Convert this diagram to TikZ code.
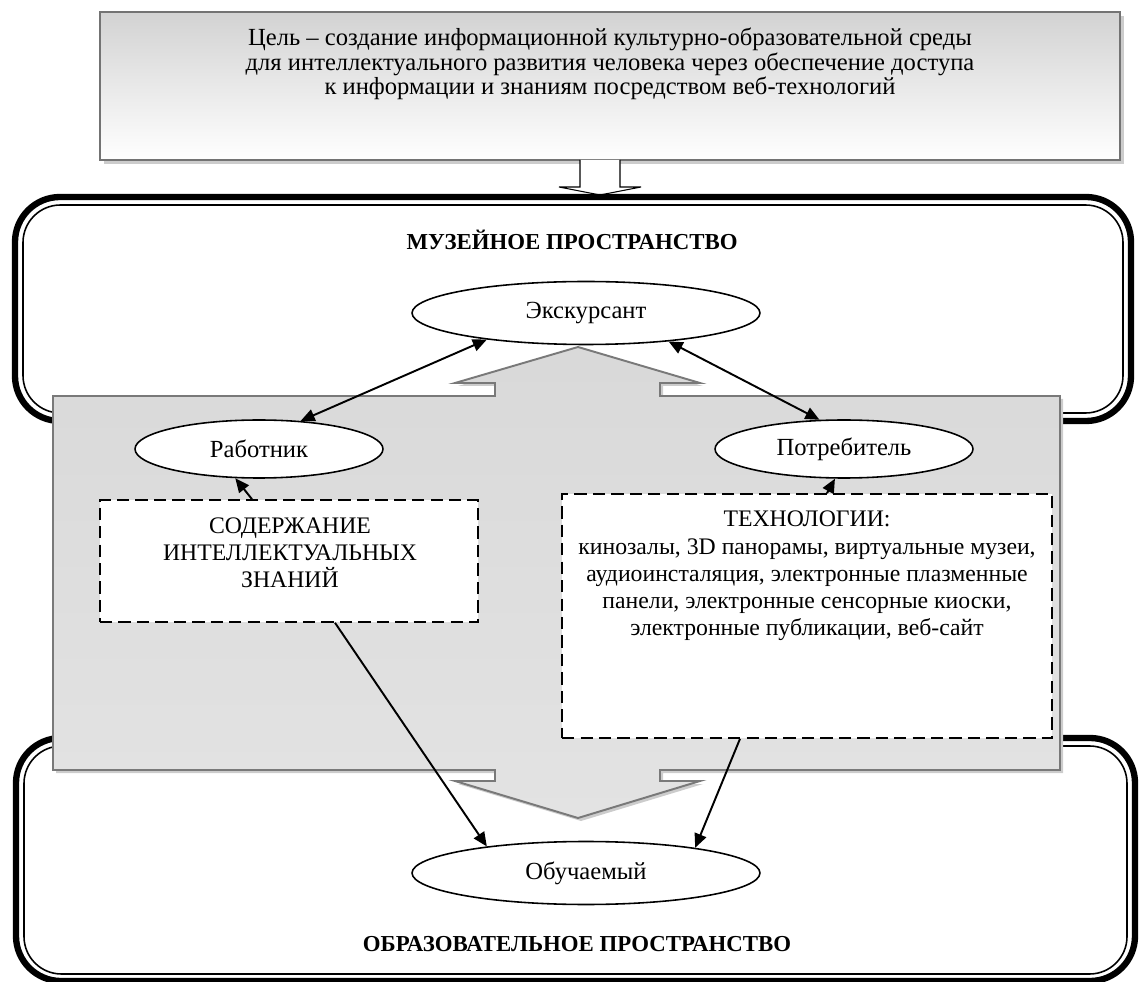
\documentclass[tikz,border=0pt]{standalone}
\usepackage{fontspec}
\setmainfont{Liberation Serif}
\usetikzlibrary{shapes.geometric,arrows.meta}

\tikzset{
  ell/.style={ellipse,draw,fill=white,line width=0.9pt,inner sep=0pt,font=\fontsize{14}{16}\selectfont},
  dbox/.style={draw,fill=white,line width=0.9pt,dash pattern=on 7pt off 3.5pt,inner sep=0pt},
  dtext/.style={align=center,font=\fontsize{13.5}{15.5}\selectfont,inner sep=0pt},
  title/.style={font=\bfseries\fontsize{13}{15}\selectfont},
  link/.style={line width=1.1pt,-{Triangle[length=8pt,width=7pt]}},
  dlink/.style={line width=1.1pt,{Triangle[length=8pt,width=7pt]}-{Triangle[length=8pt,width=7pt]}},
  thickline/.style={line width=3.6pt},
  thinline/.style={line width=0.9pt}
}
\newcommand{\callout}{(53,396) -- (495,396) -- (495,383) -- (455,383) -- (578,347) -- (700,383) -- (660,383) -- (660,396) -- (1060,396) -- (1060,770) -- (660,770) -- (660,781) -- (700,781) -- (578,818) -- (455,781) -- (495,781) -- (495,770) -- (53,770) -- cycle}

\begin{document}
\begin{tikzpicture}[x=0.02cm,y=-0.02cm]
\useasboundingbox (0,0) rectangle (1139,982);

% goal
\fill[gray!40] (104,16) rectangle (1124,164);
\shade[top color=gray!35,bottom color=white,draw=gray!90!black,line width=1.1pt] (100,12) rectangle (1120,160);
\node[align=center,font=\fontsize{14}{13.8}\selectfont] (goal) at (610,64)
 {Цель – создание информационной культурно-образовательной среды\\
  для интеллектуального развития человека через обеспечение доступа\\
  к информации и знаниям посредством веб-технологий};
\draw[fill=white,line width=0.6pt] (580,160) -- (580,187) -- (559,187) -- (600,195) -- (641,187) -- (620,187) -- (620,160);

% museum space
\draw[thickline,rounded corners=0.9cm] (15,197) rectangle (1131,421);
\draw[thinline,rounded corners=0.75cm] (23,205) rectangle (1123,413);
\node[title] (museum) at (572,240) {МУЗЕЙНОЕ ПРОСТРАНСТВО};

% education space
\draw[thickline,rounded corners=0.9cm] (16,738) rectangle (1135,981);
\draw[thinline,rounded corners=0.75cm] (24,746) rectangle (1127,974);
\node[title] (edu) at (577,944) {ОБРАЗОВАТЕЛЬНОЕ ПРОСТРАНСТВО};

% up-down callout
\fill[gray!40,shift={(3,3)}] \callout;
\shade[top color=gray!30,middle color=white,bottom color=gray!22,draw=gray!95!black,line width=1.1pt] \callout;

% actors
\node[ell,minimum width=6.96cm,minimum height=1.26cm] (exc) at (586,313) {Экскурсант};
\node[ell,minimum width=4.96cm,minimum height=1.16cm] (wrk) at (259,449) {Работник};
\node[ell,minimum width=5.16cm,minimum height=1.16cm] (cons) at (844,449) {Потребитель};
\node[ell,minimum width=6.96cm,minimum height=1.26cm] (learn) at (586,873) {Обучаемый};

% content and technologies
\node[dbox,minimum width=7.56cm,minimum height=2.44cm] (know) at (289,561) {};
\node[dtext] (knowtext) at (290,553) {СОДЕРЖАНИЕ\\ИНТЕЛЛЕКТУАЛЬНЫХ\\ЗНАНИЙ};
\node[dbox,minimum width=9.8cm,minimum height=4.88cm] (tech) at (807,616) {};
\node[dtext] (techtext) at (807,576) {ТЕХНОЛОГИИ:\\
 кинозалы, 3D панорамы, виртуальные музеи,\\
 аудиоинсталяция, электронные плазменные\\
 панели, электронные сенсорные киоски,\\
 электронные публикации, веб-сайт};

% links
\draw[dlink] (exc.195) -- (wrk.34);
\draw[dlink] (exc.341) -- (cons.130);
\draw[link] ([xshift=-0.74cm]know.north) -- (wrk.231);
\draw[link] ([xshift=0.4cm]tech.north) -- (cons.253);
\draw[link] ([xshift=0.92cm]know.south) -- (learn.165);
\draw[link] ([xshift=-1.34cm]tech.south) -- (learn.13);
\end{tikzpicture}
\end{document}
